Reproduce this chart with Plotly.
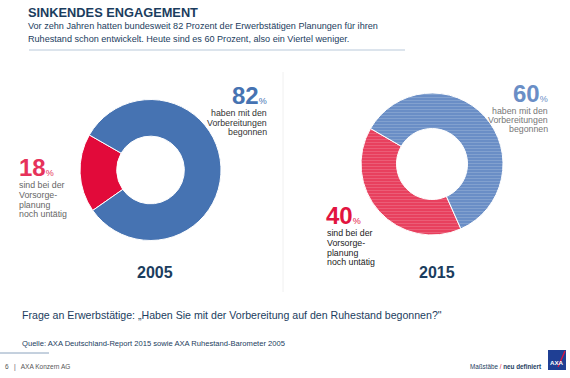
import plotly.graph_objects as go

W, H = 570, 378
years = ["2005", "2015"]
started = [82, 60]
not_started = [18, 40]
cat_labels = ["noch untätig", "begonnen"]
started_caption = ["haben mit den", "Vorbereitungen", "begonnen"]
not_caption = ["sind bei der", "Vorsorge-", "planung", "noch untätig"]

title = "SINKENDES ENGAGEMENT"
subtitle = ["Vor zehn Jahren hatten bundesweit 82 Prozent der Erwerbstätigen Planungen für ihren",
            "Ruhestand schon entwickelt. Heute sind es 60 Prozent, also ein Viertel weniger."]
question = "Frage an Erwerbstätige: „Haben Sie mit der Vorbereitung auf den Ruhestand begonnen?\""
source = "Quelle: AXA Deutschland-Report 2015 sowie AXA Ruhestand-Barometer 2005"
footer_left = "6   |   AXA Konzern AG"

def px(x):
    return x / W

def py(y):
    return 1 - y / H

NAVY = "#1b3d5e"
FONT = "Liberation Sans, Arial, sans-serif"

fig = go.Figure()

# 2005 donut
fig.add_trace(go.Pie(
    labels=cat_labels, values=[not_started[0], started[0]],
    hole=0.48, sort=False, direction="clockwise", rotation=235,
    marker=dict(colors=["#e20a3a", "#4673b2"], line=dict(color="white", width=1)),
    textinfo="none", hoverinfo="label+percent", showlegend=False,
    domain=dict(x=[px(80), px(221)], y=[py(240.5), py(99.5)]),
))
# 2015 donut (striped)
fig.add_trace(go.Pie(
    labels=cat_labels, values=[not_started[1], started[1]],
    hole=0.5, sort=False, direction="clockwise", rotation=156,
    marker=dict(colors=["#e8405e", "#6a8ec6"], line=dict(color="white", width=1),
                pattern=dict(shape=["-", "-"], fgcolor=["#f08ea0", "#a9bfe0"],
                             size=3, solidity=0.25, fillmode="overlay")),
    textinfo="none", hoverinfo="label+percent", showlegend=False,
    domain=dict(x=[px(361), px(503)], y=[py(235.5), py(92.5)]),
))

ann = []
def text(x, y, t, size, color, xanchor="left", yanchor="middle", bold=False, family=FONT):
    ann.append(dict(x=px(x), y=py(y), xref="paper", yref="paper", text=("<b>%s</b>" % t) if bold else t,
                    showarrow=False, xanchor=xanchor, yanchor=yanchor, borderpad=0,
                    font=dict(size=size, color=color, family=family)))

# header
text(27, 12.5, title, 12.8, NAVY, bold=True)
text(27, 26, subtitle[0], 9.1, NAVY)
text(27, 39, subtitle[1], 9.1, NAVY)

# 2005 labels
text(268, 95, "<b>%d</b><span style='font-size:9px'>%%</span>" % started[0], 24, "#4673b2", xanchor="right")
for i, line in enumerate(started_caption):
    text(268, 113.5 + i * 9.3, line, 8.8, "#333333", xanchor="right")
text(18, 167, "<b>%d</b><span style='font-size:9px'>%%</span>" % not_started[0], 24, "#e6325a")
for i, line in enumerate(not_caption):
    text(18, 185.5 + i * 9.5, line, 8.8, "#666666")
text(155, 272, years[0], 16, NAVY, xanchor="center", bold=True)

# 2015 labels
text(549, 93, "<b>%d</b><span style='font-size:9px'>%%</span>" % started[1], 24, "#6a8ec6", xanchor="right")
for i, line in enumerate(started_caption):
    text(549, 110.5 + i * 9.3, line, 8.8, "#777777", xanchor="right")
text(325, 215, "<b>%d</b><span style='font-size:9px'>%%</span>" % not_started[1], 24, "#e2143f")
for i, line in enumerate(not_caption):
    text(326, 233.5 + i * 9.5, line, 8.8, "#222222")
text(437, 272, years[1], 16, NAVY, xanchor="center", bold=True)

# bottom
text(21, 315, question, 10.6, NAVY)
text(21, 343, source, 7.6, NAVY)
text(4, 367, footer_left, 6.5, "#555555")
text(543, 366, "Maßstäbe <span style='color:#e2143f'>/</span> <b>neu definiert</b>", 6.3, NAVY, xanchor="right")
text(557, 362, "<b>AXA</b>", 6.2, "white", xanchor="center")

fig.update_layout(
    width=W, height=H, margin=dict(l=0, r=0, t=0, b=0),
    paper_bgcolor="white", plot_bgcolor="white",
    annotations=ann,
    shapes=[
        dict(type="line", xref="paper", yref="paper", x0=px(29), x1=px(405), y0=py(50), y1=py(50),
             line=dict(color="#b9c9da", width=1)),
        dict(type="line", xref="paper", yref="paper", x0=px(283), x1=px(283), y0=py(72), y1=py(292),
             line=dict(color="#f0f0f0", width=1)),
        dict(type="line", xref="paper", yref="paper", x0=px(0), x1=px(49), y0=py(353), y1=py(353),
             line=dict(color="#8aa2bd", width=1)),
        dict(type="rect", xref="paper", yref="paper", x0=px(548), x1=px(566), y0=py(370), y1=py(350),
             fillcolor="#1f3f94", line=dict(width=0)),
        dict(type="line", xref="paper", yref="paper", x0=px(558), x1=px(565), y0=py(367), y1=py(351),
             line=dict(color="#e2143f", width=1.2)),
    ],
)

fig.write_html("out.html", config={"displayModeBar": False},
               post_script="document.body.style.margin='0px';document.body.style.overflow='hidden';")
